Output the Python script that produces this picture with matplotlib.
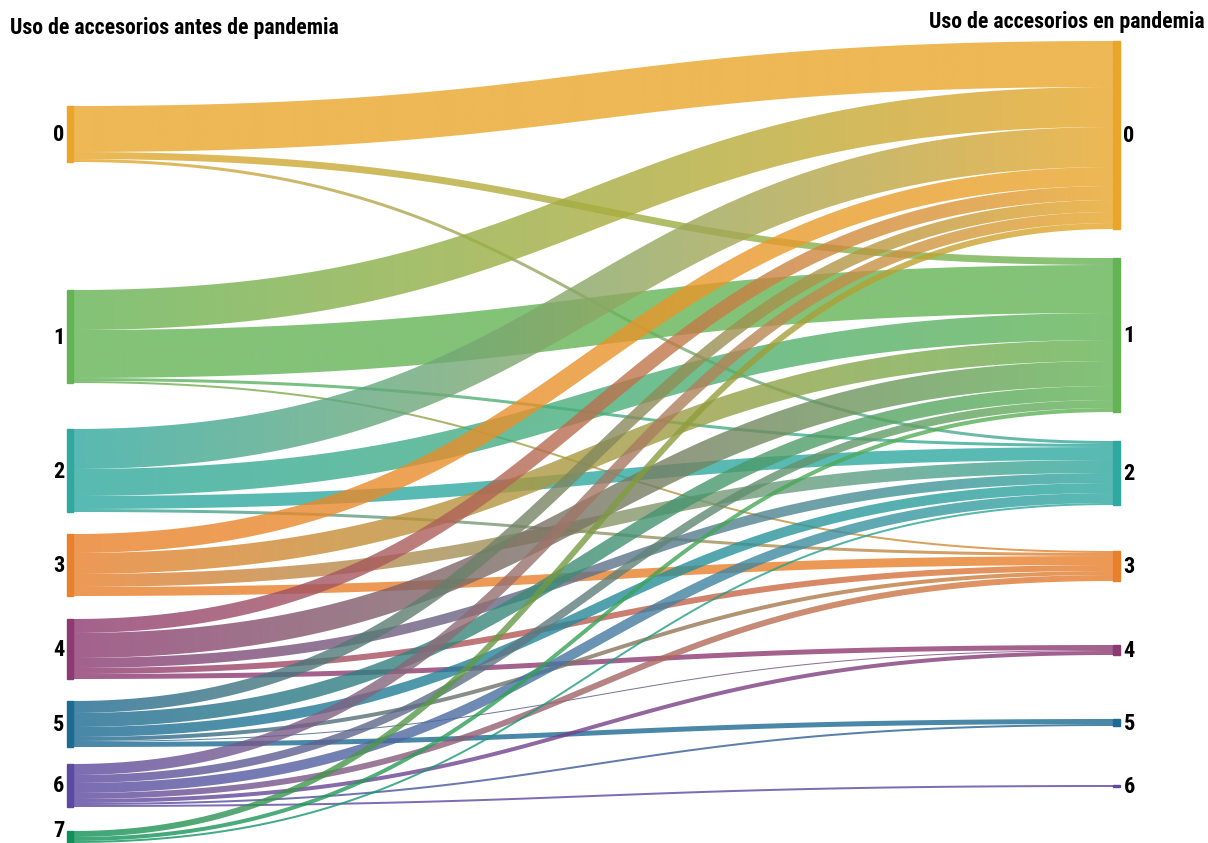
import numpy as np
import matplotlib.pyplot as plt
from matplotlib import font_manager
from matplotlib.patches import Polygon, Rectangle
from matplotlib.colors import to_rgb

left_labels = ["0", "1", "2", "3", "4", "5", "6", "7"]
right_labels = ["0", "1", "2", "3", "4", "5", "6"]

# flows from each "antes" node to "en pandemia" nodes 0..6
from_0 = [46, 7, 3, 0, 0, 0, 0]
from_1 = [40, 48, 3, 2, 0, 0, 0]
from_2 = [40, 27, 13, 3, 0, 0, 0]
from_3 = [19, 21, 13, 9, 0, 0, 0]
from_4 = [14, 25, 10, 6, 5, 0, 0]
from_5 = [12, 14, 10, 4, 1, 5, 0]
from_6 = [11, 8, 10, 6, 4, 2, 2]
from_7 = [6, 4, 2, 0, 0, 0, 0]
flows = np.array([from_0, from_1, from_2, from_3, from_4, from_5, from_6, from_7], dtype=float)

node_colors = ["#E9A62A", "#64B456", "#2FA9A0", "#E9802C",
               "#8D3A72", "#1D6A92", "#5C49A0", "#0F9159"]

# layout (sankey node top positions, pixel units)
left_tops = [106, 290, 429, 534, 619, 701, 764, 831]
right_tops = [41, 258, 441, 551, 645, 719, 785]
xl, xr = 73, 1113
bar_w = 6.5

installed = {f.name for f in font_manager.fontManager.ttflist}
font = next(n for n in ["Roboto Condensed", "Liberation Sans Narrow", "DejaVu Sans Condensed",
                        "Roboto", "DejaVu Sans"] if n in installed)

fig = plt.figure(figsize=(12.08, 8.43), dpi=100)
ax = fig.add_axes([0, 0, 1, 1])
ax.set_xlim(0, 1208)
ax.set_ylim(843, 0)
ax.axis("off")


def band(x0, y0, x1, y1, w, n=120):
    t = np.linspace(0, 1, n)
    xm = (x0 + x1) / 2
    px = (1 - t) ** 3 * x0 + 3 * (1 - t) ** 2 * t * xm + 3 * (1 - t) * t ** 2 * xm + t ** 3 * x1
    py = (1 - t) ** 3 * y0 + 3 * (1 - t) ** 2 * t * y0 + 3 * (1 - t) * t ** 2 * y1 + t ** 3 * y1
    dx = 3 * (1 - t) ** 2 * (xm - x0) + 3 * t ** 2 * (x1 - xm)
    dy = 6 * (1 - t) * t * (y1 - y0)
    L = np.hypot(dx, dy)
    nx, ny = -dy / L, dx / L
    upper = np.column_stack([px + nx * w / 2, py + ny * w / 2])
    lower = np.column_stack([px - nx * w / 2, py - ny * w / 2])
    return np.vstack([upper, lower[::-1]])


# target offsets ordered by source index
tgt_start = {}
for j in range(len(right_labels)):
    y = float(right_tops[j])
    for i in range(len(left_labels)):
        tgt_start[(i, j)] = y
        y += flows[i, j]

for i in range(len(left_labels)):
    y = float(left_tops[i])
    for j in range(len(right_labels)):
        w = flows[i, j]
        if w <= 0:
            continue
        y0 = y + w / 2
        y1 = tgt_start[(i, j)] + w / 2
        y += w
        pts = band(xl, y0, xr, y1, w)
        poly = Polygon(pts, closed=True, facecolor="none", edgecolor="none")
        ax.add_patch(poly)
        c0 = np.array(to_rgb(node_colors[i]))
        c1 = np.array(to_rgb(node_colors[j]))
        f = np.linspace(0, 1, 256)[:, None]
        grad = np.ones((1, 256, 4))
        grad[0, :, :3] = c0 * (1 - f) + c1 * f
        grad[0, :, 3] = 0.8
        ymin, ymax = pts[:, 1].min(), pts[:, 1].max()
        im = ax.imshow(grad, extent=(xl, xr, ymax, ymin), aspect="auto",
                       interpolation="bilinear", zorder=2)
        im.set_clip_path(poly)

left_tot = flows.sum(axis=1)
right_tot = flows.sum(axis=0)
for i, lab in enumerate(left_labels):
    ax.add_patch(Rectangle((xl - bar_w, left_tops[i]), bar_w, left_tot[i],
                           color=node_colors[i], zorder=3))
    ax.text(xl - bar_w - 2, min(left_tops[i] + left_tot[i] / 2 + 1, 831), lab,
            ha="right", va="center", fontsize=16, fontweight="bold", family=font)
for j, lab in enumerate(right_labels):
    ax.add_patch(Rectangle((xr, right_tops[j]), bar_w, max(right_tot[j], 1.5),
                           color=node_colors[j], zorder=3))
    ax.text(xr + bar_w + 4, right_tops[j] + right_tot[j] / 2 + 1, lab, ha="left", va="center",
            fontsize=16, fontweight="bold", family=font)

t1 = ax.text(10, 28, "Uso de accesorios antes de pandemia", ha="left", va="center",
             fontsize=14, fontweight="bold", family=font)
t2 = ax.text(1205, 22, "Uso de accesorios en pandemia", ha="right", va="center",
             fontsize=14, fontweight="bold", family=font)

# fit the headers to the reference widths
renderer = fig.canvas.get_renderer()
for t, target in [(t1, 330), (t2, 277)]:
    wpx = t.get_window_extent(renderer).width
    t.set_fontsize(14 * target / wpx)

ax.set_xlim(0, 1208)
ax.set_ylim(843, 0)
fig.savefig("out.png", dpi=100)
